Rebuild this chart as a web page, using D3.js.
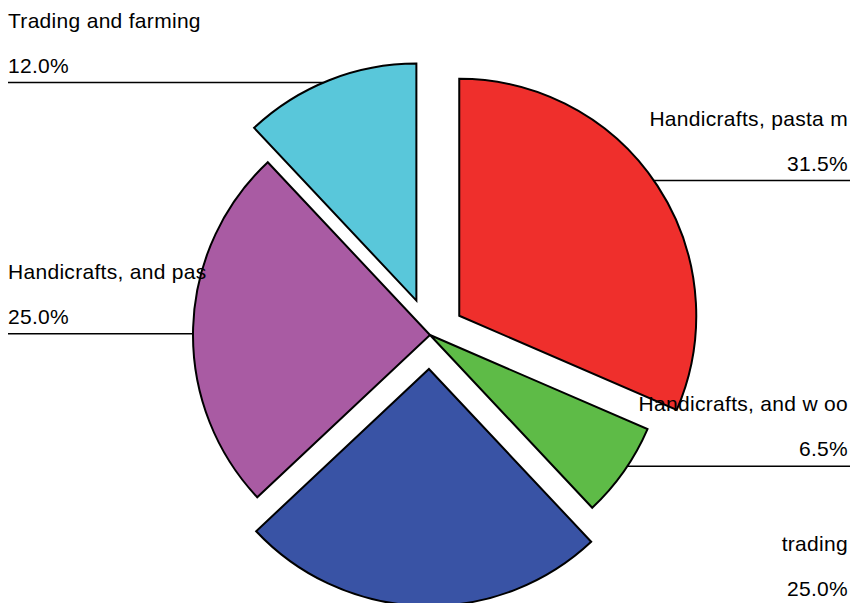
<!DOCTYPE html>
<html>
<head>
<meta charset="utf-8">
<script src="https://cdn.jsdelivr.net/npm/d3@7"></script>
<style>
  html, body { margin: 0; padding: 0; background: #fff; }
  svg { display: block; }
  text { font-family: "Liberation Sans", Arial, sans-serif; font-size: 21px; fill: #000; letter-spacing: 0.3px; }
</style>
</head>
<body>
<svg id="chart" width="854" height="603"></svg>
<script>
// Occupation shares, clockwise from twelve o'clock
const categories = [
  "Handicrafts, pasta m",
  "Handicrafts, and w oo",
  "trading",
  "Handicrafts, and pas",
  "Trading and farming"
];
const shares = [31.5, 6.5, 25.0, 25.0, 12.0];
const valueLabels = ["31.5%", "6.5%", "25.0%", "25.0%", "12.0%"];

// Slice styling and label placement
const colors = ["#EF2F2C", "#5EBB47", "#3953A5", "#A95BA3", "#59C7DA"];
const labelSides = ["right", "right", "right", "left", "left"];
const explode = { "Handicrafts, pasta m": 35, "trading": 34, "Trading and farming": 37 };

const width = 854, height = 603;
const cx = 430, cy = 335, radius = 237;
const leftEdge = 8, rightEdge = 850;
const leaderAngleOffset = -1.5 * Math.PI / 180;

const svg = d3.select("#chart");
const g = svg.append("g").attr("transform", `translate(${cx},${cy})`);

const pie = d3.pie().sort(null).startAngle(0).endAngle(2 * Math.PI).value(d => d.value);
const arc = d3.arc().innerRadius(0).outerRadius(radius);

const data = categories.map((c, i) => ({
  name: c, value: shares[i], label: valueLabels[i], color: colors[i], side: labelSides[i]
}));
const arcs = pie(data);

function offsetOf(a) {
  const mid = (a.startAngle + a.endAngle) / 2;
  const e = explode[a.data.name] || 0;
  return [Math.sin(mid) * e, -Math.cos(mid) * e];
}

g.selectAll("path.slice")
  .data(arcs)
  .join("path")
  .attr("class", "slice")
  .attr("transform", a => `translate(${offsetOf(a)})`)
  .attr("d", arc)
  .attr("fill", a => a.data.color)
  .attr("stroke", "#000")
  .attr("stroke-width", 2)
  .attr("stroke-linejoin", "miter");

// Leader lines and labels
const labels = svg.append("g");
arcs.forEach(a => {
  const mid = (a.startAngle + a.endAngle) / 2 + leaderAngleOffset;
  const [ox, oy] = offsetOf(a);
  const ax = cx + ox + Math.sin(mid) * radius;
  const ay = cy + oy - Math.cos(mid) * radius;
  const right = a.data.side === "right";
  const edge = right ? rightEdge : leftEdge;

  labels.append("line")
    .attr("x1", ax).attr("y1", ay)
    .attr("x2", edge).attr("y2", ay)
    .attr("stroke", "#000")
    .attr("stroke-width", 1.5);

  const tx = right ? rightEdge - 2 : leftEdge;
  const anchor = right ? "end" : "start";
  labels.append("text")
    .attr("x", tx).attr("y", ay - 55)
    .attr("text-anchor", anchor)
    .text(a.data.name);
  labels.append("text")
    .attr("x", tx).attr("y", ay - 10)
    .attr("text-anchor", anchor)
    .text(a.data.label);
});
</script>
</body>
</html>
